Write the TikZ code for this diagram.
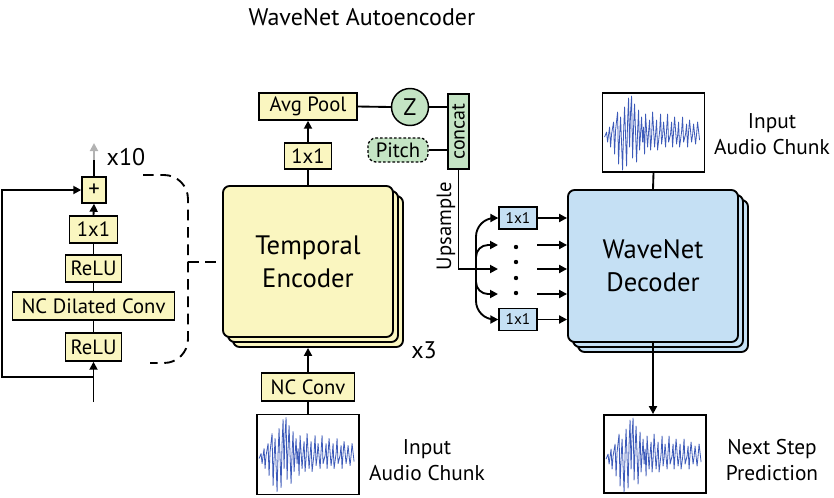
\documentclass[tikz,border=0pt]{standalone}
\usepackage{fontspec}
\setmainfont{PT Sans}
\usepackage{graphicx}
\usetikzlibrary{arrows.meta}
\definecolor{yel}{RGB}{250,246,192}
\definecolor{blu}{RGB}{197,224,244}
\definecolor{grn}{RGB}{196,228,196}
\definecolor{wav}{RGB}{60,90,185}
\newcommand\mywave[1]{%
\begin{scope}[shift={(#1.north west)}]
\draw[wav,line width=0.6pt,line join=round] plot coordinates {(3,45) (5,40) (6,50) (8,35) (9,55) (10,42) (12,30) (13,62) (14,38) (16,20) (17,72) (18,45) (19,25) (21,78) (22,40) (23,15) (25,74) (26,30) (27,6) (28,55) (29,20) (30,4) (31,66) (32,35) (33,12) (35,70) (36,40) (37,18) (38,58) (40,25) (41,50) (42,35) (43,62) (44,22) (46,55) (47,40) (48,28) (49,58) (50,45) (51,20) (53,55) (54,42) (55,28) (56,58) (58,40) (59,22) (60,52) (61,44) (62,30) (64,55) (65,38) (66,22) (67,50) (69,42) (70,30) (71,55) (72,40) (73,25) (75,52) (76,44) (77,30) (78,55) (80,40) (81,25) (82,50) (84,42) (85,32) (86,55) (87,40) (88,28) (90,50) (91,43) (92,32) (94,52) (95,42) (96,30) (98,48)};
\end{scope}}
\tikzset{
 conn/.style={line width=1.4pt},
 arr/.style={conn,-{Triangle[length=6pt,width=6pt]}},
 ybox/.style={draw,fill=yel,line width=1.1pt,inner sep=0pt,font=\fontsize{15.5}{17}\selectfont},
 bbox/.style={draw,fill=blu,line width=1pt,inner sep=0pt,font=\fontsize{11.5}{13}\selectfont,minimum width={38*0.75pt},minimum height={22*0.75pt}},
 big/.style={draw,rounded corners=5pt,line width=1.4pt,minimum width={170*0.75pt},minimum height={151*0.75pt},align=center,font=\fontsize{20}{25}\selectfont},
 audio/.style={draw,line width=1.4pt,minimum width={102*0.75pt},minimum height={80*0.75pt},fill=white},
 lbl/.style={align=center,font=\fontsize{16}{19.5}\selectfont},
 dashy/.style={line width=1.4pt,dash pattern=on 8pt off 5pt},
}
\begin{document}
\begin{tikzpicture}[x=0.75pt,y=-0.75pt]
\useasboundingbox (0,0) rectangle (834,497);
% title
\node[font=\fontsize{18}{20}\selectfont] (title) at (362,17) {WaveNet Autoencoder};

% residual block
\node[ybox,minimum width={24*0.75pt},minimum height={26*0.75pt},font=\fontsize{17}{17}\selectfont] (pl) at (94,190) {+};
\node[ybox,minimum width={48*0.75pt},minimum height={27*0.75pt}] (c11) at (93.5,229.5) {1x1};
\node[ybox,minimum width={56*0.75pt},minimum height={27*0.75pt}] (relu1) at (93.5,268.5) {ReLU};
\node[ybox,minimum width={162*0.75pt},minimum height={28*0.75pt}] (ncd) at (93.5,306) {NC Dilated Conv};
\node[ybox,minimum width={56*0.75pt},minimum height={28*0.75pt}] (relu2) at (93.5,347) {ReLU};
\coordinate (rin) at (93.5,402);
\coordinate (rsk) at (93.5,377);
\coordinate (pmid) at (94,160);
\coordinate (ptop) at (94,143);
\draw[arr] (rin) -- (relu2.south);
\draw[conn] (relu2.north) -- (ncd.south);
\draw[conn] (ncd.north) -- (relu1.south);
\draw[conn] (relu1.north) -- (c11.south);
\draw[arr] (c11.north) -- (pl.south);
\draw[arr] (rsk) -| (2,190) -- (pl.west);
\draw[conn] (pl.north) -- (pmid);
\draw[conn,draw=gray!60,-{Triangle[length=6pt,width=6pt]}] (pmid) -- (ptop);
\node[font=\fontsize{18}{20}\selectfont] (x10) at (126,157) {x10};
\draw[dashy,rounded corners=18pt] (143,175) -| (188,363) -- (150,363);

% temporal encoder
\node[big,fill=yel] (enc3) at (318,271.5) {};
\node[big,fill=yel] (enc2) at (313,266.5) {};
\node[big,fill=yel] (enc) at (308,261.5) {Temporal\\Encoder};
\node[font=\fontsize{18}{20}\selectfont] (x3) at (424,350) {x3};
\coordinate (dlk) at (188,262);
\draw[dashy] (dlk) -- (dlk -| enc.west);

\node[ybox,minimum width={47*0.75pt},minimum height={26*0.75pt}] (e11) at (308,156) {1x1};
\node[ybox,minimum width={98*0.75pt},minimum height={27*0.75pt}] (avg) at (308,106.5) {Avg Pool};
\node[ybox,minimum width={93*0.75pt},minimum height={28*0.75pt}] (nc) at (308,387) {NC Conv};
\node[audio] (ain1) at (308,454.5) {};
\mywave{ain1}
\node[lbl] (t1) at (427,460) {Input\\Audio Chunk};
\draw[conn] (enc.north) -- (e11.south);
\draw[arr] (e11.north) -- (avg.south);
\draw[conn] (ain1.north) -- (nc.south);
\draw[arr] (nc.north) -- (nc.north |- enc3.south);

% latent
\node[circle,draw,fill=grn,line width=1.1pt,minimum size={37*0.75pt},inner sep=0pt,font=\fontsize{18}{18}\selectfont] (z) at (410,107) {Z};
\node[draw,fill=grn,line width=1.1pt,minimum width={21*0.75pt},minimum height={75*0.75pt},inner sep=0pt] (cc) at (458.5,131.5) {\rotatebox{90}{\fontsize{15}{15}\selectfont concat}};
\node[draw,fill=grn,dashed,dash pattern=on 2pt off 1.5pt,line width=1pt,rounded corners=6pt,minimum width={60*0.75pt},minimum height={24*0.75pt},inner sep=0pt,font=\fontsize{15.5}{17}\selectfont] (pitch) at (398,150) {Pitch};
\draw[conn] (avg.east) -- (z.west);
\draw[conn] (z.east) -- (z.east -| cc.west);
\draw[conn] (pitch.east) -- (pitch.east -| cc.west);
\node[rotate=90,font=\fontsize{15.5}{17}\selectfont] (ups) at (446,226) {Upsample};

% branches
\node[bbox] (b1) at (518,218) {1x1};
\node[bbox] (b5) at (518,319.5) {1x1};
\coordinate (jn) at (476,269);
\coordinate (u2) at (498,245);
\coordinate (u3) at (498,269);
\coordinate (u4) at (498,294);
\draw[arr] (cc.south) |- (u3);
\draw[arr,rounded corners=14pt] (jn) |- (b1.west);
\draw[arr,rounded corners=14pt] (jn) |- (b5.west);
\draw[arr,rounded corners=9pt] (jn) |- (u2);
\draw[arr,rounded corners=9pt] (jn) |- (u4);
\foreach \yy in {247,262,278,293} \fill (516,\yy) circle (2.2);

% decoder
\node[big,fill=blu,minimum height={152*0.75pt}] (dec3) at (663,276) {};
\node[big,fill=blu,minimum height={152*0.75pt}] (dec2) at (658,271) {};
\node[big,fill=blu,minimum height={152*0.75pt}] (dec) at (653,266) {WaveNet\\Decoder};
\coordinate (m2) at (537,245);
\coordinate (m3) at (537,269);
\coordinate (m4) at (537,294);
\draw[arr] (b1.east) -- (b1.east -| dec.west);
\draw[arr] (b5.east) -- (b5.east -| dec.west);
\draw[arr] (m2) -- (m2 -| dec.west);
\draw[arr] (m3) -- (m3 -| dec.west);
\draw[arr] (m4) -- (m4 -| dec.west);

\node[audio,minimum height={79*0.75pt}] (ain2) at (653.5,132.5) {};
\mywave{ain2}
\node[lbl] (t2) at (772,134.5) {Input\\Audio Chunk};
\draw[conn] (ain2.south) -- (dec.north);
\node[audio,minimum height={78*0.75pt}] (nxt) at (655,454) {};
\mywave{nxt}
\node[lbl] (t3) at (772,460.5) {Next Step\\Prediction};
\draw[arr] (dec.south) -- (dec.south |- nxt.north);
\end{tikzpicture}
\end{document}
